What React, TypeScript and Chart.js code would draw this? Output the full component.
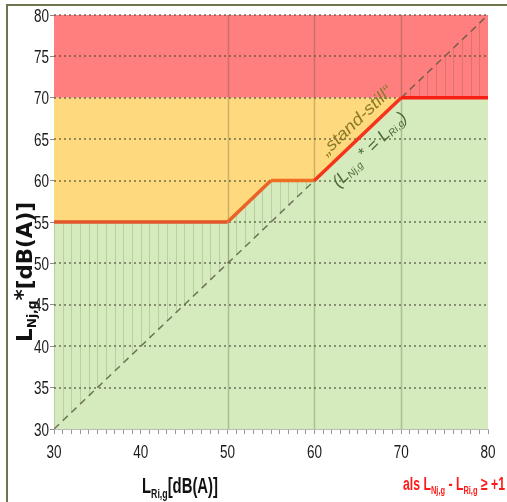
import React, { useEffect, useRef } from "react";
import { Chart, registerables } from "chart.js";

Chart.register(...registerables);

// ---- data ----
const limitX = [30, 50, 55, 60, 70, 80];
const limitY = [55, 55, 60, 60, 70, 70];
const diagX = [30, 80];
const diagY = [30, 80];
const zoneX = [30, 80];
const yellowTop = [70, 70];
const redTop = [80, 80];
const redBottom = 70;
const greenBottom = 30;
const xTickLabels = [30, 40, 50, 60, 70, 80];
const xGridValues = [50, 60, 70];
const yMin = 30;
const yMax = 80;
const yStep = 5;
const xMin = 30;
const xMax = 80;
const hatchStep = 1;
const standStillAnchor = [64.9, 67.2];
const equalityAnchor = [66.4, 63.7];

const NARROW = '"Liberation Sans Narrow", "Liberation Sans", sans-serif';
const LABEL_FONT = '18px "Liberation Sans", Arial, sans-serif';

type Part = { t: string; font: string; dy?: number };

function drawRich(
  ctx: CanvasRenderingContext2D,
  parts: Part[],
  x: number,
  y: number,
  opts: { fit?: number; align?: "left" | "center"; rotate?: number; color: string; baseline?: CanvasTextBaseline }
) {
  ctx.save();
  let w = 0;
  for (const p of parts) {
    ctx.font = p.font;
    w += ctx.measureText(p.t).width;
  }
  const sx = opts.fit ? opts.fit / w : 1;
  ctx.translate(x, y);
  if (opts.rotate) ctx.rotate(opts.rotate);
  ctx.scale(sx, 1);
  ctx.fillStyle = opts.color;
  ctx.textAlign = "left";
  ctx.textBaseline = opts.baseline || "alphabetic";
  let cx = opts.align === "center" ? -w / 2 : 0;
  for (const p of parts) {
    ctx.font = p.font;
    ctx.fillText(p.t, cx, p.dy || 0);
    cx += ctx.measureText(p.t).width;
  }
  ctx.restore();
}

function makeHatch(xs: any) {
  const c = document.createElement("canvas");
  c.width = Math.ceil(xs.right) + 4;
  c.height = 4;
  const g = c.getContext("2d")!;
  g.fillStyle = "rgba(60,70,30,0.18)";
  for (let v = xs.min; v <= xs.max; v += hatchStep) {
    const p = Math.round(xs.getPixelForValue(v));
    g.fillRect(p, 0, 1, 4);
  }
  return g.createPattern(c, "repeat-y");
}

const limitColors = ["#E2552B", "#EA6226", "#EE7022", "#F5341B", "#F81E14"];

const decor = {
  id: "decor",
  beforeDatasetDraw(chart: any, args: any) {
    if (args.index !== 4) return;
    const { ctx, chartArea } = chart;
    const xs = chart.scales.x;
    const ys = chart.scales.y;
    ctx.save();
    ctx.strokeStyle = "rgba(80,80,50,0.3)";
    ctx.lineWidth = 1.5;
    for (const v of xGridValues) {
      const px = Math.round(xs.getPixelForValue(v)) + 0.5;
      ctx.beginPath();
      ctx.moveTo(px, chartArea.top);
      ctx.lineTo(px, chartArea.bottom);
      ctx.stroke();
    }
    ctx.strokeStyle = "rgba(70,70,50,0.55)";
    ctx.lineWidth = 2;
    ctx.setLineDash([2, 3]);
    for (const t of ys.ticks) {
      if (t.value <= yMin) continue;
      const py = Math.round(ys.getPixelForValue(t.value));
      ctx.beginPath();
      ctx.moveTo(chartArea.left, py);
      ctx.lineTo(chartArea.right, py);
      ctx.stroke();
    }
    ctx.restore();
  },
  afterDraw(chart: any) {
    const { ctx } = chart;
    const xs = chart.scales.x;
    const ys = chart.scales.y;
    // frame
    ctx.save();
    ctx.strokeStyle = "#6b7650";
    ctx.lineWidth = 2;
    ctx.beginPath();
    ctx.moveTo(7, 502);
    ctx.lineTo(7, 5);
    ctx.lineTo(507, 5);
    ctx.stroke();
    ctx.restore();

    // tick labels (condensed)
    ctx.save();
    ctx.fillStyle = "#1a1a1a";
    ctx.font = LABEL_FONT;
    ctx.textBaseline = "alphabetic";
    for (const t of ys.ticks) {
      const py = ys.getPixelForValue(t.value);
      ctx.save();
      ctx.translate(49, py + 6.5);
      ctx.scale(0.75, 1);
      ctx.textAlign = "right";
      ctx.fillText(String(t.value), 0, 0);
      ctx.restore();
    }
    for (const v of xTickLabels) {
      const px = xs.getPixelForValue(v);
      ctx.save();
      ctx.translate(px, 458);
      ctx.scale(0.75, 1);
      ctx.textAlign = "center";
      ctx.fillText(String(v), 0, 0);
      ctx.restore();
    }
    ctx.restore();

    // annotations
    const ang = Math.atan2(
      ys.getPixelForValue(limitY[4]) - ys.getPixelForValue(limitY[3]),
      xs.getPixelForValue(limitX[4]) - xs.getPixelForValue(limitX[3])
    );
    drawRich(
      ctx,
      [{ t: "\u201Estand-still\u201C", font: `italic 17px ${NARROW}` }],
      xs.getPixelForValue(standStillAnchor[0]),
      ys.getPixelForValue(standStillAnchor[1]),
      { fit: 92, align: "center", rotate: ang, color: "#8A7A28", baseline: "middle" }
    );
    drawRich(
      ctx,
      [
        { t: "(L", font: `italic 17px ${NARROW}` },
        { t: "Nj,g", font: `italic 10px ${NARROW}`, dy: 4 },
        { t: " *", font: `italic 16px ${NARROW}`, dy: -2 },
        { t: " = L", font: `italic 17px ${NARROW}` },
        { t: "Ri,g", font: `italic 10px ${NARROW}`, dy: 4 },
        { t: ")", font: `italic 17px ${NARROW}` },
      ],
      xs.getPixelForValue(equalityAnchor[0]),
      ys.getPixelForValue(equalityAnchor[1]),
      { fit: 98, align: "center", rotate: ang - 0.03, color: "#4E6B3A", baseline: "middle" }
    );

    // x title
    drawRich(
      ctx,
      [
        { t: "L", font: `bold 22px ${NARROW}` },
        { t: "Ri,g", font: `bold 13px ${NARROW}`, dy: 5 },
        { t: "[dB(A)]", font: `bold 22px ${NARROW}` },
      ],
      142,
      493,
      { fit: 76, color: "#111" }
    );
    // y title
    drawRich(
      ctx,
      [
        { t: "L", font: 'bold 21px "DejaVu Sans", sans-serif' },
        { t: "Nj,g", font: 'bold 12px "DejaVu Sans", sans-serif', dy: 4 },
        { t: "*", font: 'bold 21px "DejaVu Sans", sans-serif', dy: -2 },
        { t: "[dB(A)]", font: 'bold 21px "DejaVu Sans", sans-serif' },
      ],
      32,
      342,
      { fit: 140, rotate: -Math.PI / 2, color: "#111" }
    );
    // red note
    drawRich(
      ctx,
      [
        { t: "als L", font: `bold 18px ${NARROW}` },
        { t: "Nj,g", font: `bold 11px ${NARROW}`, dy: 4 },
        { t: " - L", font: `bold 18px ${NARROW}` },
        { t: "Ri,g", font: `bold 11px ${NARROW}`, dy: 4 },
        { t: " \u2265 +1", font: `bold 18px ${NARROW}` },
      ],
      403,
      490,
      { fit: 102, color: "#FF1A1A" }
    );
  },
};

const pts = (xs: number[], ys: number[]) => xs.map((x, i) => ({ x, y: ys[i] }));

export default function App() {
  const ref = useRef<HTMLCanvasElement>(null);
  useEffect(() => {
    const canvas = ref.current!;
    const limitPts = pts(limitX, limitY);
    const chart = new Chart(canvas, {
      type: "line",
      data: {
        datasets: [
          {
            data: pts(zoneX, redTop),
            fill: { value: redBottom },
            backgroundColor: "#FF7F7F",
            borderWidth: 0,
            pointRadius: 0,
            order: 10,
          },
          {
            data: pts(zoneX, yellowTop),
            fill: 2,
            backgroundColor: "#FFD97D",
            borderWidth: 0,
            pointRadius: 0,
            order: 9,
          },
          {
            data: limitPts,
            fill: { value: greenBottom },
            backgroundColor: "#D5EBBD",
            borderWidth: 0,
            pointRadius: 0,
            order: 8,
          },
          {
            data: limitPts,
            fill: 4,
            backgroundColor: (c: any) => {
              const xs = c.chart.scales.x;
              if (!xs || !c.chart.chartArea) return "rgba(0,0,0,0)";
              return makeHatch(xs);
            },
            borderWidth: 0,
            pointRadius: 0,
            order: 7,
          },
          {
            data: pts(diagX, diagY),
            fill: false,
            borderColor: "rgba(85,85,65,0.8)",
            borderWidth: 1.5,
            borderDash: [7, 5],
            pointRadius: 0,
            order: 3,
          },
          {
            data: limitPts,
            fill: false,
            borderColor: "#F5341B",
            borderWidth: 3.5,
            pointRadius: 0,
            order: 1,
            segment: {
              borderColor: (c: any) => limitColors[c.p0DataIndex] || "#F5341B",
            },
          } as any,
        ],
      },
      options: {
        animation: false,
        responsive: false,
        devicePixelRatio: 1,
        events: [],
        layout: { padding: { left: 0, top: 15, right: 19, bottom: 0 } },
        plugins: { legend: { display: false }, tooltip: { enabled: false } },
        elements: { line: { tension: 0 } },
        scales: {
          x: {
            type: "linear",
            min: xMin,
            max: xMax,
            afterFit: (s: any) => {
              s.height = 73;
            },
            ticks: {
              display: false,
              stepSize: 1,
              autoSkip: false,
              maxRotation: 0,
              maxTicksLimit: 200,
            },
            grid: {
              drawOnChartArea: false,
              drawTicks: true,
              tickLength: 5,
              tickColor: "rgba(140,140,140,0.9)",
            },
            border: { display: true, color: "rgba(170,170,170,0.8)" },
          },
          y: {
            type: "linear",
            min: yMin,
            max: yMax,
            afterFit: (s: any) => {
              s.width = 54;
            },
            ticks: {
              display: false,
              stepSize: yStep,
            },
            grid: {
              drawOnChartArea: false,
              drawTicks: true,
              tickLength: 4,
              tickColor: "rgba(110,110,100,0.8)",
            },
            border: { display: true, color: "rgba(150,150,140,0.5)" },
          },
        },
      } as any,
      plugins: [decor],
    });
    return () => chart.destroy();
  }, []);
  return (
    <div style={{ position: "fixed", left: 0, top: 0, width: 507, height: 502, background: "#fff" }}>
      <canvas ref={ref} width={507} height={502} style={{ display: "block", width: 507, height: 502 }} />
    </div>
  );
}
